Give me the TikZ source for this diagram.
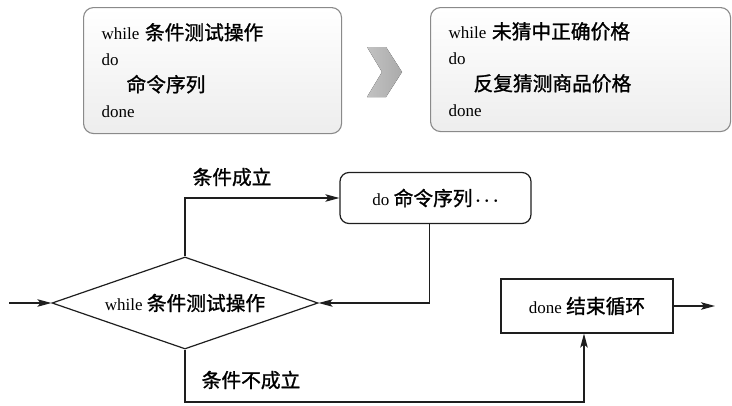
\documentclass[tikz,border=0pt]{standalone}
\usepackage{fontspec}
\setmainfont{Liberation Serif}
\newfontfamily\cjk{Noto Sans CJK SC}[Scale=1.16, FakeBold=1.2]
\usetikzlibrary{positioning,arrows.meta,shapes.geometric}
\definecolor{frame}{HTML}{8A8A8A}
\definecolor{ink}{HTML}{1E1E1E}
\newcommand{\zh}[1]{{\cjk #1}}

\begin{document}
\begin{tikzpicture}[x=1pt, y=-1pt,
    font=\fontsize{17}{26}\selectfont,
    codebox/.style={draw=frame, line width=1.1pt, rounded corners=10pt,
      top color=white, bottom color=gray!14, anchor=north west,
      align=left, inner xsep=18pt, inner ysep=0pt},
    flowbox/.style={draw=ink, line width=1.2pt, minimum width=172pt,
      minimum height=54pt},
    decision/.style={draw=ink, line width=1.2pt, diamond, aspect=2.9,
      minimum width=266pt, minimum height=92pt, inner sep=1pt},
    link/.style={draw=ink, line width=1.3pt,
      -{Stealth[length=14pt,width=7.5pt,inset=3pt]}}
  ]
    \useasboundingbox (0,0) rectangle (732,405);

    % Syntax box and example box
    \node[codebox, minimum width=258pt, minimum height=126pt,
      text width=222pt] (syntax) at (83,7)
      {while \zh{条件测试操作}\\
       do\\
       \hspace*{25pt}\zh{命令序列}\\
       done};
    \node[codebox, minimum width=300pt, minimum height=124pt,
      text width=264pt] (sample) at (430,7)
      {while \zh{未猜中正确价格}\\
       do\\
       \hspace*{25pt}\zh{反复猜测商品价格}\\
       done};

    % Chevron between the two boxes
    \fill[left color=gray!48, right color=gray!66]
      (367,47) -- (386,47) -- (402,72) -- (386,97) -- (367,97)
      -- (382,72) -- cycle;

    % Flow chart
    \node[decision] (cond) at (185,303) {while \zh{条件测试操作}};
    \node[flowbox, rounded corners=9pt, minimum width=191pt,
      minimum height=51pt] (body) at (435.5,198)
      {do \zh{命令序列}\,{\boldmath$\cdots$}};
    \node[flowbox] (done) at (587,306) {done \zh{结束循环}};

    \coordinate (start) at (9,303);
    \coordinate (stop) at (715,306);
    \coordinate (turn) at (584,402);

    \draw[link] (start) -- (cond.west);
    \draw[link] (cond.north) |- (body.west);
    \draw[link] ([xshift=-6pt]body.south) |- (cond.east);
    \draw[link] (cond.south) |- (turn) -- (turn |- done.south);
    \draw[link] (done.east) -- (stop);

    % Branch labels
    \node (yes) at (232,177) {\zh{条件成立}};
    \node (no) at (251,380) {\zh{条件不成立}};
  \end{tikzpicture}
\end{document}
